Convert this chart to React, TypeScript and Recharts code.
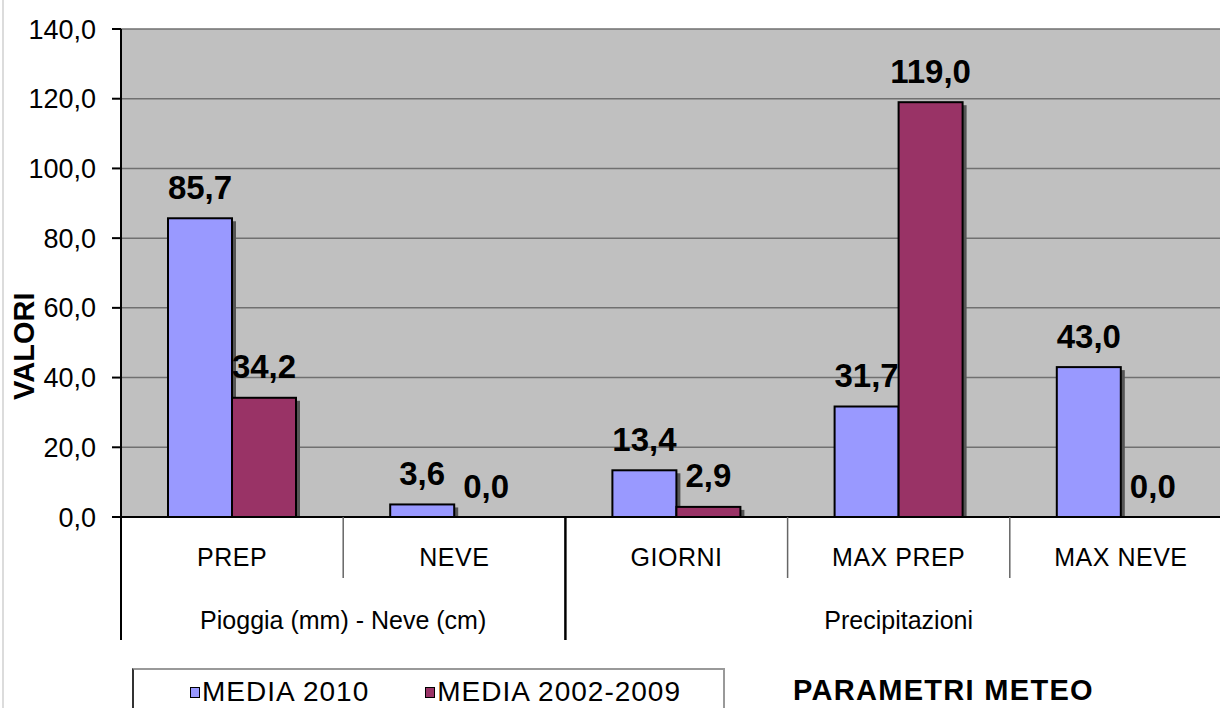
import React from 'react';
import {
  BarChart,
  Bar,
  XAxis,
  YAxis,
  CartesianGrid,
  LabelList,
  Legend,
} from 'recharts';

// Categories and their two-level grouping
const categories = ['PREP', 'NEVE', 'GIORNI', 'MAX PREP', 'MAX NEVE'];
const groups = ['Pioggia (mm) - Neve (cm)', 'Precipitazioni'];
const groupOfCategory = [0, 0, 1, 1, 1];

// Series values
const media2010 = [85.7, 3.6, 13.4, 31.7, 43.0];
const media20022009 = [34.2, 0.0, 2.9, 119.0, 0.0];

// Value-axis ticks
const yTicks = [0, 20, 40, 60, 80, 100, 120, 140];

const seriesNames = ['MEDIA 2010', 'MEDIA 2002-2009'];
const seriesColors = ['#9999FF', '#993366'];

const data = categories.map((name, i) => ({
  name,
  group: groupOfCategory[i],
  a: media2010[i],
  b: media20022009[i],
}));

const FONT = '"Liberation Sans", Arial, sans-serif';
const CHART_W = 1240;
const CHART_H = 708;
const MARGIN = { top: 29, right: 8, left: 0, bottom: 0 };
const Y_AXIS_W = 121;
const X_AXIS_H = 191;
const PLOT_W = CHART_W - MARGIN.left - MARGIN.right - Y_AXIS_W;
const BAND = PLOT_W / categories.length;

const fmt = (v: number) => v.toFixed(1).replace('.', ',');

// Bar with a dark drop shadow to the lower right
const ShadowBar = (props: any) => {
  const { x, y, width, height, fill } = props;
  if (!height || height <= 0) return <g />;
  return (
    <g>
      <rect x={x + 4} y={y + 3} width={width} height={Math.max(height - 3, 0)} fill="#555555" />
      <rect x={x} y={y} width={width} height={height} fill={fill} stroke="#000" strokeWidth={2} />
    </g>
  );
};

const ValueLabel = (props: any) => {
  const { x, y, width, value } = props;
  return (
    <text
      x={x + width / 2}
      y={y - 31}
      textAnchor="middle"
      dominantBaseline="central"
      fontFamily={FONT}
      fontSize={33}
      fontWeight="bold"
      fill="#000"
    >
      {fmt(Number(value))}
    </text>
  );
};

// Two-level category tick: category name, separators and group captions
const TwoLevelTick = (props: any) => {
  const { x, y, index } = props;
  const half = BAND / 2;
  const g = groupOfCategory[index];
  const firstOfGroup = index === 0 || groupOfCategory[index - 1] !== g;
  const lastOfGroup = index === categories.length - 1 || groupOfCategory[index + 1] !== g;
  const count = groupOfCategory.filter((v) => v === g).length;
  const left = x - half;
  const right = x + half;
  return (
    <g>
      <text
        x={x}
        y={y + 40}
        textAnchor="middle"
        dominantBaseline="central"
        fontFamily={FONT}
        fontSize={25}
        letterSpacing={0.5}
        fill="#000"
      >
        {categories[index]}
      </text>
      {!lastOfGroup && (
        <line x1={right} y1={y} x2={right} y2={y + 61} stroke="#666" strokeWidth={1.5} />
      )}
      {firstOfGroup && (
        <>
          <line x1={left} y1={y} x2={left} y2={y + 123} stroke="#000" strokeWidth={2} />
          <text
            x={left + count * half}
            y={y + 103}
            textAnchor="middle"
            dominantBaseline="central"
            fontFamily={FONT}
            fontSize={25}
            fill="#000"
          >
            {groups[g]}
          </text>
        </>
      )}
      {lastOfGroup && (
        <line x1={right} y1={y} x2={right} y2={y + 123} stroke="#000" strokeWidth={2} />
      )}
    </g>
  );
};

const LegendBox = () => (
  <div
    style={{
      boxSizing: 'border-box',
      width: 593,
      height: 60,
      borderTop: '2px solid #999',
      borderLeft: '2px solid #333',
      borderRight: '2px solid #999',
      display: 'flex',
      flexWrap: 'nowrap',
      alignItems: 'flex-start',
      paddingTop: 7,
      paddingLeft: 56,
      fontFamily: FONT,
      fontSize: 28,
      color: '#000',
      letterSpacing: 1,
      lineHeight: '30px',
      whiteSpace: 'nowrap',
    }}
  >
    {seriesNames.map((n, i) => (
      <div
        key={n}
        style={{ display: 'flex', alignItems: 'center', marginRight: 56, flexShrink: 0 }}
      >
        <span
          style={{
            display: 'inline-block',
            width: 8,
            height: 9,
            background: seriesColors[i],
            border: '1.5px solid #000',
            marginRight: 2,
            flexShrink: 0,
          }}
        />
        <span style={{ whiteSpace: 'nowrap' }}>{n}</span>
      </div>
    ))}
  </div>
);

export default function App() {
  return (
    <div
      style={{
        position: 'absolute',
        left: 0,
        top: 0,
        width: 1220,
        height: 708,
        overflow: 'hidden',
        background: '#fff',
      }}
    >
      <div
        style={{
          position: 'absolute',
          left: 2,
          top: 0,
          width: 2,
          height: 708,
          background: '#dcdcdc',
        }}
      />
      <BarChart
        width={CHART_W}
        height={CHART_H}
        data={data}
        margin={MARGIN}
        barCategoryGap={47}
        barGap={0}
      >
        <CartesianGrid vertical={false} stroke="#707070" strokeWidth={1.5} fill="#C0C0C0" />
        <XAxis
          dataKey="name"
          height={X_AXIS_H}
          interval={0}
          tickLine={false}
          tickSize={0}
          tickMargin={0}
          axisLine={{ stroke: '#000', strokeWidth: 2 }}
          tick={<TwoLevelTick />}
          label={({ viewBox }: any) => (
            <text
              x={viewBox.x + 672}
              y={viewBox.y + 173}
              dominantBaseline="central"
              fontFamily={FONT}
              fontSize={29}
              fontWeight="bold"
              letterSpacing={1.3}
              fill="#000"
            >
              PARAMETRI METEO
            </text>
          )}
        />
        <YAxis
          width={Y_AXIS_W}
          domain={[0, 140]}
          ticks={yTicks}
          interval={0}
          tickFormatter={fmt}
          tickSize={9}
          tickMargin={16}
          tickLine={{ stroke: '#000', strokeWidth: 2 }}
          axisLine={{ stroke: '#000', strokeWidth: 2 }}
          tick={{ fill: '#000', fontSize: 27, fontFamily: FONT }}
          label={({ viewBox }: any) => {
            const cy = viewBox.y + viewBox.height * 0.65;
            return (
              <text
                x={24}
                y={cy}
                transform={`rotate(-90, 24, ${cy})`}
                textAnchor="middle"
                dominantBaseline="central"
                fontFamily={FONT}
                fontSize={29}
                fontWeight="bold"
                fill="#000"
              >
                VALORI
              </text>
            );
          }}
        />
        <Legend
          verticalAlign="middle"
          align="center"
          layout="horizontal"
          wrapperStyle={{ position: 'absolute', left: 132, top: 668, width: 593, height: 60 }}
          content={() => <LegendBox />}
        />
        <Bar
          dataKey="a"
          name={seriesNames[0]}
          fill={seriesColors[0]}
          shape={<ShadowBar />}
          isAnimationActive={false}
        >
          <LabelList dataKey="a" content={<ValueLabel />} />
        </Bar>
        <Bar
          dataKey="b"
          name={seriesNames[1]}
          fill={seriesColors[1]}
          shape={<ShadowBar />}
          isAnimationActive={false}
        >
          <LabelList dataKey="b" content={<ValueLabel />} />
        </Bar>
      </BarChart>
    </div>
  );
}
